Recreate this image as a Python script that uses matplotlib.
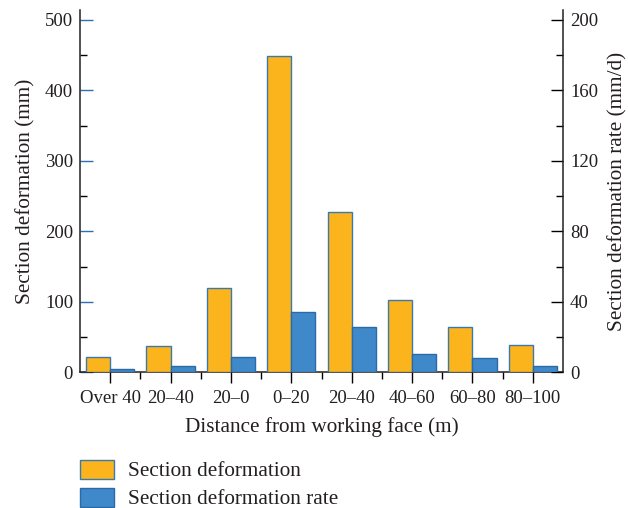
import matplotlib
matplotlib.use("Agg")
import matplotlib.pyplot as plt
from matplotlib.ticker import MultipleLocator, FixedLocator
from matplotlib.patches import Patch
import numpy as np

categories = ["Over 40", "20\u201340", "20\u20130", "0\u201320", "20\u201340", "40\u201360", "60\u201380", "80\u2013100"]
deformation = [21, 38, 120, 449, 227, 102, 64, 39]
deformation_rate = [1.8, 3.4, 8.5, 34, 25.5, 10.2, 8, 3.7]

plt.rcParams['font.family'] = ['Liberation Serif', 'DejaVu Serif']
plt.rcParams['font.size'] = 13.5
label_fs = 15.3

orange = '#FBB41C'
blue = '#3F88C9'
edge_o = '#3A78B0'
edge_b = '#2C6AA5'
txt = '#231F20'

fig = plt.figure(figsize=(6.28, 5.08), dpi=100)
ax = fig.add_axes([80/628, 1-372.3/508, (563-80)/628, (372.3-10)/508])
ax2 = ax.twinx()

x = np.arange(len(categories))
w = 0.4
ax.bar(x - w/2, deformation, width=w, color=orange, edgecolor=edge_o, linewidth=1.0, zorder=3)
ax2.bar(x + w/2, deformation_rate, width=w, color=blue, edgecolor=edge_b, linewidth=1.0, zorder=3)

ax.set_xlim(-0.5, len(categories) - 0.5)
ax.set_ylim(0, 514)
ax2.set_ylim(0, 514 * 0.4)

ax.set_xticks(x)
ax.set_xticklabels(categories, color=txt)
ax.xaxis.set_minor_locator(FixedLocator(np.arange(0.5, len(categories) - 1, 1)))
ax.tick_params(axis='x', which='major', direction='out', length=8, width=1, pad=5)
ax.tick_params(axis='x', which='minor', direction='out', length=5, width=1)

ax.yaxis.set_major_locator(MultipleLocator(100))
ax.yaxis.set_minor_locator(MultipleLocator(50))
ax.tick_params(axis='y', which='major', direction='in', length=9, width=1, color='#2E6FB0', labelcolor=txt, pad=5)
ax.tick_params(axis='y', which='minor', direction='in', length=5, width=1)

ax2.yaxis.set_major_locator(MultipleLocator(40))
ax2.yaxis.set_minor_locator(MultipleLocator(20))
ax2.tick_params(axis='y', which='major', direction='in', length=9, width=1, labelcolor=txt, pad=5)
ax2.tick_params(axis='y', which='minor', direction='in', length=5, width=1)

for a in (ax, ax2):
    a.spines['top'].set_visible(False)
    for s in ('left', 'right', 'bottom'):
        a.spines[s].set_linewidth(1.1)
        a.spines[s].set_color('#231F20')
ax.spines['right'].set_visible(False)
ax2.spines['left'].set_visible(False)
ax2.spines['bottom'].set_visible(False)

ax.set_ylabel("Section deformation (mm)", color=txt, fontsize=label_fs, labelpad=7)
ax2.set_ylabel("Section deformation rate (mm/d)", color=txt, fontsize=label_fs, labelpad=7)
ax.set_xlabel("Distance from working face (m)", color=txt, fontsize=label_fs, labelpad=7)

handles = [Patch(facecolor=orange, edgecolor=edge_o, linewidth=1.0),
           Patch(facecolor=blue, edgecolor=edge_b, linewidth=1.0)]
fig.legend(handles, ["Section deformation", "Section deformation rate"],
           loc='upper left', bbox_to_anchor=(71/628, 1-451/508), frameon=False,
           fontsize=label_fs, handlelength=1.6, handleheight=1.0, handletextpad=0.7,
           labelspacing=0.3, borderaxespad=0, labelcolor=txt)

fig.savefig("out.png", dpi=100)
